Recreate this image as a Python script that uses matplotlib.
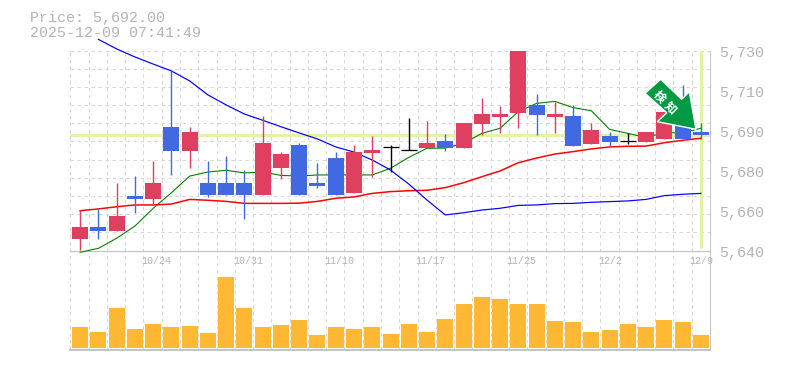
import numpy as np
import matplotlib
matplotlib.use("Agg")
import matplotlib.pyplot as plt
from matplotlib.patches import Polygon

title_lines = ["Price: 5,692.00", "2025-12-09 07:41:49"]
last_price = 5692.0
date_idx = [4, 9, 14, 19, 24, 29, 34]
date_labels = ["10/24", "10/31", "11/10", "11/17", "11/25", "12/2", "12/9"]
ytick_labels = ["5,730", "5,710", "5,690", "5,680", "5,660", "5,640"]
badge_text = "検知"

opens = [5645.2,5650.6,5648.8,5664.5,5663.2,5695.6,5684.8,5670.4,5670.4,5670.4,5665.0,5677.1,5687.5,5670.4,5681.6,5665.9,5683.9,5686.6,
         5685.2,5686.1,5689.3,5686.1,5696.9,5700.0,5701.9,5705.5,5700.0,5700.5,5687.9,5691.5,5689.3,5688.8,5690.4,5701.0,5693.3]
closes = [5650.6,5648.8,5655.5,5663.2,5670.4,5684.8,5693.3,5665.0,5665.0,5665.0,5688.4,5683.4,5665.0,5669.0,5665.0,5684.3,5685.2,5686.6,
          5685.2,5688.4,5686.1,5697.4,5701.4,5701.4,5730.0,5701.0,5701.4,5687.0,5694.2,5688.8,5689.3,5693.3,5702.4,5690.4,5692.0]
highs = [5658.1,5658.5,5670.4,5673.5,5680.3,5721.1,5695.6,5680.3,5682.5,5676.2,5700.5,5684.3,5688.4,5679.4,5684.3,5687.5,5691.5,5687.5,
         5699.6,5698.3,5692.4,5697.4,5708.6,5705.0,5730.0,5710.4,5706.8,5705.5,5697.4,5693.3,5692.9,5693.3,5702.4,5714.5,5697.4]
lows = [5640.1,5645.2,5648.8,5656.9,5660.9,5674.0,5677.1,5664.1,5665.0,5654.2,5665.0,5672.2,5665.0,5668.1,5665.0,5665.9,5673.1,5675.3,
        5685.2,5686.1,5684.8,5686.1,5692.0,5692.9,5695.1,5692.0,5692.9,5687.0,5687.9,5687.0,5687.9,5688.8,5690.4,5690.4,5690.4]
ma_short = [5639.2,5641.0,5645.5,5651.0,5659.0,5666.0,5673.5,5675.3,5676.1,5674.9,5675.3,5673.8,5673.5,5674.0,5674.0,5674.0,5674.0,5677.0,
            5681.9,5686.0,5686.1,5688.2,5692.7,5695.0,5702.5,5706.2,5707.1,5704.3,5702.9,5694.5,5692.7,5690.9,5693.0,5693.0,5695.0]
ma_mid = [5657.9,5658.7,5659.7,5660.5,5660.5,5660.9,5663.0,5662.6,5662.1,5661.2,5661.2,5661.2,5661.3,5662.1,5663.5,5664.1,5665.7,5666.5,
          5666.9,5667.1,5668.3,5670.5,5673.2,5675.8,5679.5,5681.6,5683.4,5684.5,5685.7,5686.6,5686.9,5687.0,5688.5,5689.6,5690.5]
ma_long = [np.nan,5735.0,5730.7,5727.1,5723.9,5720.8,5716.3,5710.0,5705.5,5701.4,5698.6,5695.7,5692.9,5690.2,5686.6,5684.3,5680.7,5676.2,
           5669.9,5662.7,5656.0,5657.0,5658.2,5659.0,5660.3,5660.5,5661.1,5661.2,5661.7,5662.0,5662.3,5663.0,5664.7,5665.3,5665.7]
volumes = [21,16,40,19,24,21,22,15,71,40,21,23,28,13,21,19,21,14,24,16,29,44,51,49,44,44,27,26,16,18,24,21,28,26,13]

W, H = 785, 370
FONT = "Liberation Mono"
TXT = "#b4b4b4"
GRID = "#d8d8d8"
AXIS = "#c4c4c4"
UP = "#E0405F"
DOWN = "#4169E1"
HL = "#E2F2A8"
VOL = "#FFB833"
PX = 0.72  # one pixel in points at dpi 100

fig = plt.figure(figsize=(W / 100, H / 100), dpi=100, facecolor="white")

def px_axes(x0, y0, x1, y1, **kw):
    return fig.add_axes([x0 / W, 1 - y1 / H, (x1 - x0) / W, (y1 - y0) / H], **kw)

L, R = 70.3, 710.0
xlim = (-0.54, 34.5)
slot_edges = np.linspace(xlim[0], xlim[1], 36)

bg = px_axes(L, 50.5, R, 350, zorder=0)
bg.set_xlim(*xlim)
bg.set_ylim(0, 1)
bg.axis("off")
bg.vlines(slot_edges[:-1], 0, 1, colors=GRID, lw=PX, linestyles=(0, (3.5, 3.5)))

ax = px_axes(L, 50.5, R, 250.5, zorder=1)
ax.patch.set_alpha(0)
ax.set_xlim(*xlim)
ax.set_ylim(5640, 5730)
for s in ("top", "left", "right"):
    ax.spines[s].set_visible(False)
ax.spines["bottom"].set_color(AXIS)
ax.spines["bottom"].set_linewidth(PX * 1.2)
ax.set_xticks([])
ax.set_yticks([])
for yg in np.linspace(5640, 5730, 12)[1:]:
    ax.axhline(yg, color=GRID, lw=PX, ls=(0, (3.5, 3.5)), zorder=1)

ax.axhline(last_price, color=HL, lw=PX * 3, zorder=2)
ax.plot([34, 34], [5641, 5730], color=HL, lw=PX * 3, zorder=2, solid_capstyle="butt")

x = np.arange(len(opens))
ax.plot(x, ma_short, color="#008000", lw=PX * 1.1, zorder=3, clip_on=False)
ax.plot(x, ma_mid, color="#ff0000", lw=PX * 1.5, zorder=3, clip_on=False)
ax.plot(x, ma_long, color="#0000ff", lw=PX * 1.2, zorder=3, clip_on=False)

bw = 16 / (R - L) * (xlim[1] - xlim[0])
for i, (o, c, h, l) in enumerate(zip(opens, closes, highs, lows)):
    col = UP if c > o else DOWN if c < o else "black"
    ax.vlines(i, l, h, colors=col, lw=PX * 1.4, zorder=4)
    if c == o:
        ax.hlines(c, i - bw / 2, i + bw / 2, colors=col, lw=PX * 1.3, zorder=5)
    else:
        ax.bar(i, abs(c - o), bottom=min(o, c), width=bw, color=col, lw=0, zorder=5)

vx = px_axes(L, 268, R, 349.5, zorder=1)
vx.patch.set_alpha(0)
vx.set_xlim(*xlim)
vx.set_ylim(-1.5, 80)
for s in ("top", "left", "right"):
    vx.spines[s].set_visible(False)
vx.spines["bottom"].set_color(AXIS)
vx.spines["bottom"].set_linewidth(PX * 2)
vx.set_xticks([])
vx.set_yticks([])
vx.bar(x, volumes, width=bw, color=VOL, lw=0, zorder=3)

ov = fig.add_axes([0, 0, 1, 1], zorder=5)
ov.set_xlim(0, W)
ov.set_ylim(H, 0)
ov.axis("off")
ov.plot([R, R], [50.5, 350], color=AXIS, lw=PX)

ov.text(30, 18, title_lines[0], family=FONT, fontsize=10.8, color=TXT, va="center", ha="left")
ov.text(30, 33, title_lines[1], family=FONT, fontsize=10.8, color=TXT, va="center", ha="left")
for lab, yy in zip(ytick_labels, np.linspace(53, 253, 6)):
    ov.text(719, yy, lab, family=FONT, fontsize=10.8, color=TXT, va="center", ha="left")
for i, lab in zip(date_idx, date_labels):
    px = L + (i - xlim[0]) / (xlim[1] - xlim[0]) * (R - L)
    ov.text(px - 11.5, 261.5, lab, family=FONT, fontsize=7.2, color=TXT, va="center", ha="left")

arrow = [(645, 93.3), (660.7, 79.3), (681.7, 99.3), (689.3, 91.7), (696, 129.3), (657.3, 121.7), (666.7, 112.7)]
ov.add_patch(Polygon(arrow, closed=True, fc="#009944", ec="white", lw=1.0, joinstyle="miter", zorder=6))
cjk = ["Noto Sans CJK JP", "DejaVu Sans"]
ov.text(659.5, 97, badge_text[0], family=cjk, fontsize=8.5, weight="bold", color="white",
        rotation=-45, rotation_mode="anchor", ha="center", va="center", zorder=7)
ov.text(670.5, 107.5, badge_text[1], family=cjk, fontsize=8.5, weight="bold", color="white",
        rotation=-45, rotation_mode="anchor", ha="center", va="center", zorder=7)

fig.savefig("out.png", dpi=100, facecolor="white")
